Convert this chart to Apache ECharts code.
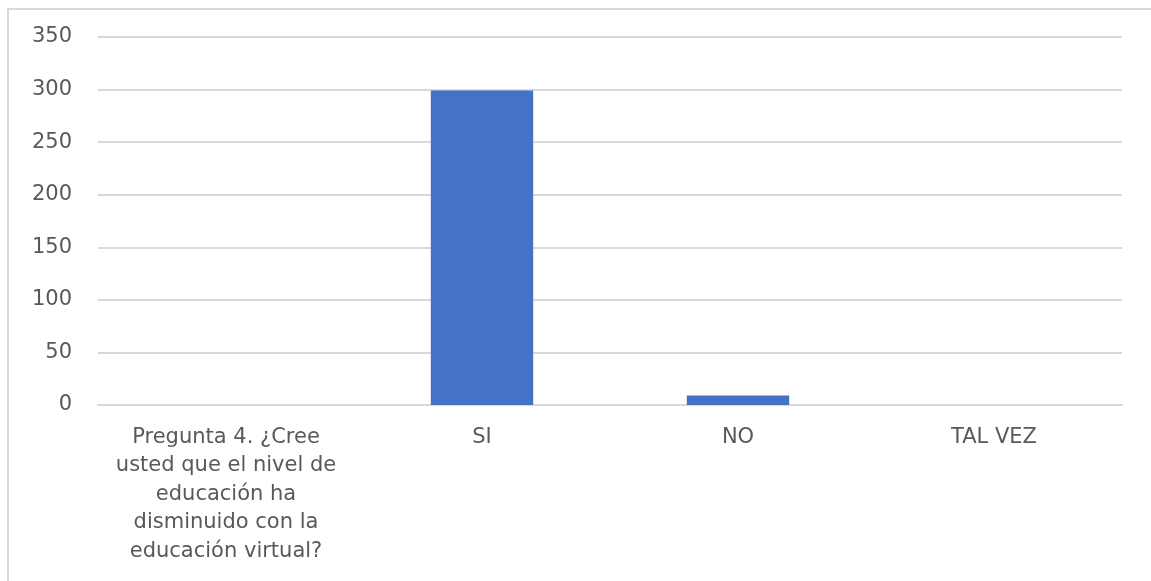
<!DOCTYPE html>
<html>
<head>
<meta charset="utf-8">
<script src="https://cdn.jsdelivr.net/npm/echarts@6/dist/echarts.min.js"></script>
<style>
html,body{margin:0;padding:0;background:#fff;overflow:hidden;}
#wrap{position:absolute;left:0;top:0;width:1151px;height:581px;overflow:hidden;}
#frame{position:absolute;left:7px;top:8px;width:1144px;height:573px;border-top:2px solid #d9d9d9;border-left:2px solid #d9d9d9;box-sizing:border-box;}
#chart{position:absolute;left:0;top:0;width:1151px;height:581px;}
</style>
</head>
<body>
<div id="wrap">
<div id="frame"></div>
<div id="chart"></div>
</div>
<script>
const categories = ["Pregunta 4. ¿Cree\nusted que el nivel de\neducación ha\ndisminuido con la\neducación virtual?", "SI", "NO", "TAL VEZ"];
const values = [0, 299, 9, 0];
const yTicks = { min: 0, max: 350, interval: 50 };

const chart = echarts.init(document.getElementById('chart'));
chart.setOption({
  animation: false,
  grid: { left: 98, right: 29, top: 37, bottom: 176 },
  xAxis: {
    type: 'category',
    data: categories,
    axisLine: { show: true, lineStyle: { color: '#d9d9d9', width: 2 } },
    axisTick: { show: false },
    axisLabel: {
      interval: 0,
      color: '#595959',
      fontFamily: 'DejaVu Sans',
      fontSize: 21,
      lineHeight: 28.5,
      margin: 18,
      align: 'center'
    }
  },
  yAxis: {
    type: 'value',
    min: yTicks.min, max: yTicks.max, interval: yTicks.interval,
    axisLine: { show: false },
    axisTick: { show: false },
    splitLine: { lineStyle: { color: '#d9d9d9', width: 2 } },
    axisLabel: { color: '#595959', fontFamily: 'DejaVu Sans', fontSize: 21, margin: 26 }
  },
  series: [{
    type: 'bar',
    data: values,
    barCategoryGap: '60%',
    itemStyle: { color: '#4472c4' }
  }]
});
</script>
</body>
</html>
